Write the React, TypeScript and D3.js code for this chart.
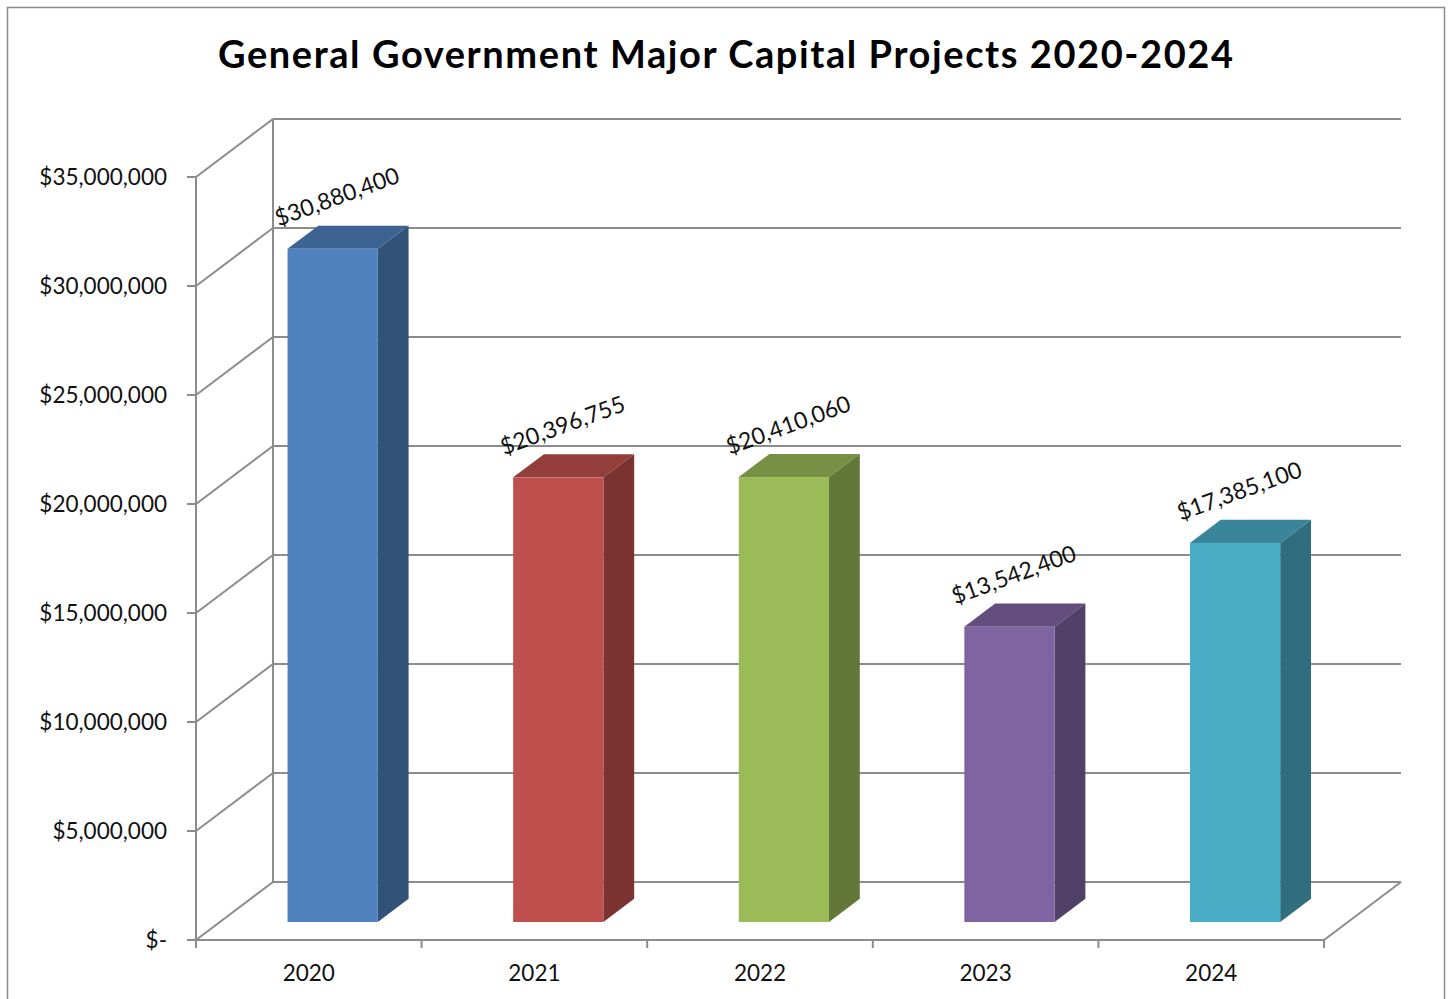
import React from "react";
import * as d3 from "d3";

const years = ["2020", "2021", "2022", "2023", "2024"];
const values = [30880400, 20396755, 20410060, 13542400, 17385100];
const yTicks = [0, 5000000, 10000000, 15000000, 20000000, 25000000, 30000000, 35000000];
const frontColors = ["#4F81BD", "#C0504D", "#9BBB59", "#8064A2", "#4BACC6"];
const title = "General Government Major Capital Projects 2020-2024";

const W = 1449;
const H = 999;
const DX = 77;
const DY = -58;
const D0 = 0.31;
const D1 = 0.71;
const GRID = "#8c8c8c";
const FONT = "Lato, 'Open Sans', sans-serif";

const fmtMoney = (v: number) => (v === 0 ? "$-" : "$" + d3.format(",")(v));

export default function App() {
  const x0 = 196;
  const x1 = 1324;
  const yScale = d3.scaleLinear().domain([0, 35000000]).range([940, 177]);
  const catScale = d3.scaleBand<string>().domain(years).range([x0, x1]).padding(0);
  const barScale = d3
    .scaleBand<string>()
    .domain(years)
    .range([x0, x1])
    .paddingInner(0.6)
    .paddingOuter(0.3);
  const bw = barScale.bandwidth();
  const dd = D1 - D0;
  const y0 = yScale(0);
  const yTop = yScale(35000000);

  return (
    <svg
      width={W}
      height={H}
      style={{ position: "absolute", left: 0, top: 0, background: "#fff" }}
      fontFamily={FONT}
    >
      <rect x={0} y={0} width={W} height={H} fill="#fff" />
      <rect x={7.5} y={7.5} width={1437} height={1010} fill="#fff" stroke="#8c8c8c" strokeWidth={1.5} />
      <text
        x={725.5}
        y={68}
        textAnchor="middle"
        fontSize={38}
        fontWeight={700}
        fill="#000"
        textLength={1015}
        lengthAdjust="spacing"
      >
        {title}
      </text>

      {/* back wall grid lines and side wall diagonals */}
      {yTicks.map((t) => {
        const yf = yScale(t);
        return (
          <g key={"g" + t}>
            <line x1={x0} y1={yf} x2={x0 + DX} y2={yf + DY} stroke={GRID} strokeWidth={2} />
            <line x1={x0 + DX} y1={yf + DY} x2={x1 + DX} y2={yf + DY} stroke={GRID} strokeWidth={2} />
          </g>
        );
      })}
      <line x1={x0 + DX} y1={yTop + DY} x2={x0 + DX} y2={y0 + DY} stroke={GRID} strokeWidth={2} />
      {/* floor */}
      <line x1={x1} y1={y0} x2={x1 + DX} y2={y0 + DY} stroke={GRID} strokeWidth={2} />
      <line x1={x0} y1={y0} x2={x1} y2={y0} stroke={GRID} strokeWidth={2} />
      {/* front value axis */}
      <line x1={x0} y1={yTop} x2={x0} y2={y0} stroke={GRID} strokeWidth={2} />
      {yTicks.map((t) => (
        <g key={"t" + t}>
          <line x1={x0 - 9} y1={yScale(t)} x2={x0} y2={yScale(t)} stroke={GRID} strokeWidth={2} />
          <text x={167} y={yScale(t) + 8} textAnchor="end" fontSize={22.5} fill="#111">
            {fmtMoney(t)}
          </text>
        </g>
      ))}
      {/* category ticks */}
      {[...years.map((y) => catScale(y) as number), x1].map((xt, i) => (
        <line key={"c" + i} x1={xt} y1={y0} x2={xt} y2={y0 + 8} stroke={GRID} strokeWidth={2} />
      ))}
      {years.map((yr) => (
        <text
          key={"l" + yr}
          x={(catScale(yr) as number) + catScale.bandwidth() / 2}
          y={981}
          textAnchor="middle"
          fontSize={22.5}
          fill="#111"
        >
          {yr}
        </text>
      ))}

      {/* bars */}
      {years.map((yr, i) => {
        const v = values[i];
        const fx0 = (barScale(yr) as number) + D0 * DX;
        const fx1 = fx0 + bw;
        const fyT = yScale(v) + D0 * DY;
        const fyB = y0 + D0 * DY;
        const ox = dd * DX;
        const oy = dd * DY;
        const base = frontColors[i];
        const top = d3.rgb(base).darker(0.73).formatHex();
        const side = d3.rgb(base).darker(1.27).formatHex();
        const topPts = [
          [fx0, fyT],
          [fx1, fyT],
          [fx1 + ox, fyT + oy],
          [fx0 + ox, fyT + oy],
        ];
        const sidePts = [
          [fx1, fyT],
          [fx1 + ox, fyT + oy],
          [fx1 + ox, fyB + oy],
          [fx1, fyB],
        ];
        return (
          <g key={"b" + yr}>
            <polygon points={sidePts.map((p) => p.join(",")).join(" ")} fill={side} />
            <polygon points={topPts.map((p) => p.join(",")).join(" ")} fill={top} />
            <rect x={fx0} y={fyT} width={bw} height={fyB - fyT} fill={base} />
            <text
              transform={`translate(${(fx0 + fx1) / 2 + 4},${fyT - 53}) rotate(-20)`}
              textAnchor="middle"
              dominantBaseline="central"
              fontSize={23}
              fill="#111"
            >
              {fmtMoney(v)}
            </text>
          </g>
        );
      })}
    </svg>
  );
}
